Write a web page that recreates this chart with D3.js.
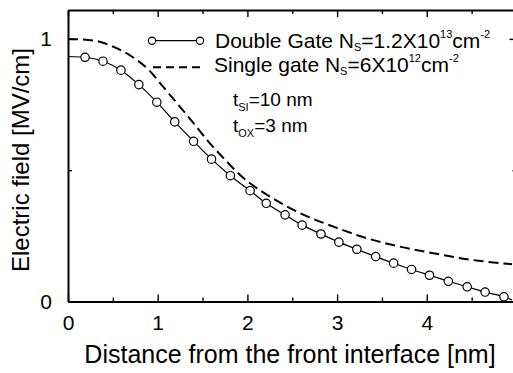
<!DOCTYPE html>
<html>
<head>
<meta charset="utf-8">
<script src="https://cdn.jsdelivr.net/npm/d3@7"></script>
<style>
  body { margin: 0; background: #fff; }
  svg { display: block; }
  text { font-family: "Liberation Sans", Arial, Helvetica, sans-serif; fill: #000; }
</style>
</head>
<body>
<svg id="chart" width="513" height="373"></svg>
<script>
// ---- data ----
const xTicks = [0, 1, 2, 3, 4];
const xMinorTicks = [0.5, 1.5, 2.5, 3.5, 4.5];
const yTicks = [0, 1];
const yMinorTicks = [0.5];

// Double gate (line + circle markers); first and last points are line ends without markers
const doubleX = [0, 0.19, 0.39, 0.59, 0.79, 0.99, 1.19, 1.40, 1.60, 1.81, 2.03, 2.21, 2.42, 2.61, 2.82, 3.02, 3.22, 3.43, 3.63, 3.83, 4.03, 4.24, 4.45, 4.65, 4.86, 4.95];
const doubleY = [0.933, 0.930, 0.915, 0.881, 0.826, 0.759, 0.684, 0.610, 0.542, 0.479, 0.422, 0.374, 0.330, 0.291, 0.257, 0.226, 0.199, 0.171, 0.146, 0.122, 0.100, 0.077, 0.056, 0.036, 0.018, 0.006];
const doubleMarker = [false, true, true, true, true, true, true, true, true, true, true, true, true, true, true, true, true, true, true, true, true, true, true, true, true, false];

// Single gate (dashed)
const singleX = [0, 0.28, 0.50, 0.71, 0.90, 1.06, 1.23, 1.40, 1.58, 1.77, 1.94, 2.03, 2.22, 2.59, 2.96, 3.33, 3.70, 4.07, 4.45, 4.95];
const singleY = [1.000, 0.994, 0.971, 0.933, 0.882, 0.818, 0.749, 0.679, 0.603, 0.533, 0.475, 0.450, 0.406, 0.336, 0.285, 0.241, 0.209, 0.184, 0.161, 0.142];

const xTitle = "Distance from the front interface [nm]";
const yTitle = "Electric field [MV/cm]";

// ---- chart ----
const svg = d3.select("#chart");
const x = d3.scaleLinear().domain([0, 5]).range([68, 516.5]);
const y = d3.scaleLinear().domain([0, 1.11]).range([301.5, 10]);

const doubleData = doubleX.map((v, i) => ({x: v, y: doubleY[i], m: doubleMarker[i]}));
const singleData = singleX.map((v, i) => ({x: v, y: singleY[i]}));

function styleAxis(g, fs) {
  g.selectAll(".domain").attr("stroke", "#000").attr("stroke-width", 2);
  g.selectAll(".tick line").attr("stroke", "#000").attr("stroke-width", 1.4);
  g.selectAll(".tick text").attr("font-size", fs).attr("font-family", "Liberation Sans, Arial, sans-serif").attr("fill", "#000");
}

// bottom axis
const gB = svg.append("g").attr("transform", "translate(0,301.5)")
  .call(d3.axisBottom(x).tickValues(xTicks).tickFormat(d3.format("d")).tickSizeInner(-7).tickSizeOuter(0).tickPadding(14));
styleAxis(gB, 21);
const gBm = svg.append("g").attr("transform", "translate(0,301.5)")
  .call(d3.axisBottom(x).tickValues(xMinorTicks).tickFormat("").tickSizeInner(-4).tickSizeOuter(0));
gBm.select(".domain").remove();
styleAxis(gBm, 21);

// top axis
const gT = svg.append("g").attr("transform", "translate(0,10)")
  .call(d3.axisTop(x).tickValues(xTicks).tickFormat("").tickSizeInner(-7).tickSizeOuter(0));
styleAxis(gT, 21);
const gTm = svg.append("g").attr("transform", "translate(0,10)")
  .call(d3.axisTop(x).tickValues(xMinorTicks).tickFormat("").tickSizeInner(-4).tickSizeOuter(0));
gTm.select(".domain").remove();
styleAxis(gTm, 21);

// left axis
const gL = svg.append("g").attr("transform", "translate(68,0)")
  .call(d3.axisLeft(y).tickValues(yTicks).tickFormat(d3.format("d")).tickSizeInner(-7).tickSizeOuter(0).tickPadding(16));
styleAxis(gL, 21);
const gLm = svg.append("g").attr("transform", "translate(68,0)")
  .call(d3.axisLeft(y).tickValues(yMinorTicks).tickFormat("").tickSizeInner(-4).tickSizeOuter(0));
gLm.select(".domain").remove();
styleAxis(gLm, 21);

// right axis
const gR = svg.append("g").attr("transform", "translate(516.5,0)")
  .call(d3.axisRight(y).tickValues(yTicks).tickFormat("").tickSizeInner(-7).tickSizeOuter(0));
styleAxis(gR, 21);
const gRm = svg.append("g").attr("transform", "translate(516.5,0)")
  .call(d3.axisRight(y).tickValues(yMinorTicks).tickFormat("").tickSizeInner(-4).tickSizeOuter(0));
gRm.select(".domain").remove();
styleAxis(gRm, 21);

// axis titles
svg.append("text").attr("x", 290).attr("y", 362.5).attr("text-anchor", "middle")
  .attr("font-size", 25).text(xTitle);
svg.append("text").attr("transform", "translate(28.5,160) rotate(-90)").attr("text-anchor", "middle")
  .attr("font-size", 24).text(yTitle);

// curves
const line = d3.line().x(d => x(d.x)).y(d => y(d.y)).curve(d3.curveMonotoneX);
svg.append("path").datum(singleData).attr("d", line)
  .attr("fill", "none").attr("stroke", "#000").attr("stroke-width", 2).attr("stroke-dasharray", "10,5");
svg.append("path").datum(doubleData).attr("d", line)
  .attr("fill", "none").attr("stroke", "#000").attr("stroke-width", 1.2);
svg.append("g").selectAll("circle").data(doubleData.filter(d => d.m)).join("circle")
  .attr("cx", d => x(d.x)).attr("cy", d => y(d.y)).attr("r", 4.2)
  .attr("fill", "#fff").attr("stroke", "#000").attr("stroke-width", 1.2);

// legend
const lg = svg.append("g");
lg.append("line").attr("x1", 152).attr("x2", 200).attr("y1", 40.7).attr("y2", 40.7)
  .attr("stroke", "#000").attr("stroke-width", 1.2);
[152, 200].forEach(cx => lg.append("circle").attr("cx", cx).attr("cy", 40.7).attr("r", 3.6)
  .attr("fill", "#fff").attr("stroke", "#000").attr("stroke-width", 1.2));
lg.append("line").attr("x1", 153).attr("x2", 200).attr("y1", 67.3).attr("y2", 67.3)
  .attr("stroke", "#000").attr("stroke-width", 2).attr("stroke-dasharray", "8,5");

function richText(xp, yp, parts, fs) {
  const t = lg.append("text").attr("x", xp).attr("y", yp).attr("font-size", fs);
  let cur = 0;
  parts.forEach(p => {
    const off = p.off || 0;
    t.append("tspan").attr("dy", off - cur).attr("font-size", p.fs || fs).text(p.t);
    cur = off;
  });
  return t;
}
richText(215, 48.3, [
  {t: "Double Gate N"}, {t: "S", fs: 11, off: 3}, {t: "=1.2X10"},
  {t: "13", fs: 11, off: -10}, {t: "cm"}, {t: "-2", fs: 11, off: -10}
], 21);
richText(214, 71.7, [
  {t: "Single gate N"}, {t: "S", fs: 11, off: 3}, {t: "=6X10"},
  {t: "12", fs: 11, off: -10}, {t: "cm"}, {t: "-2", fs: 11, off: -10}
], 21);
richText(233, 106, [
  {t: "t"}, {t: "SI", fs: 11, off: 5}, {t: "=10 nm"}
], 19);
richText(233, 131.7, [
  {t: "t"}, {t: "OX", fs: 11, off: 5}, {t: "=3 nm"}
], 19);
</script>
</body>
</html>
